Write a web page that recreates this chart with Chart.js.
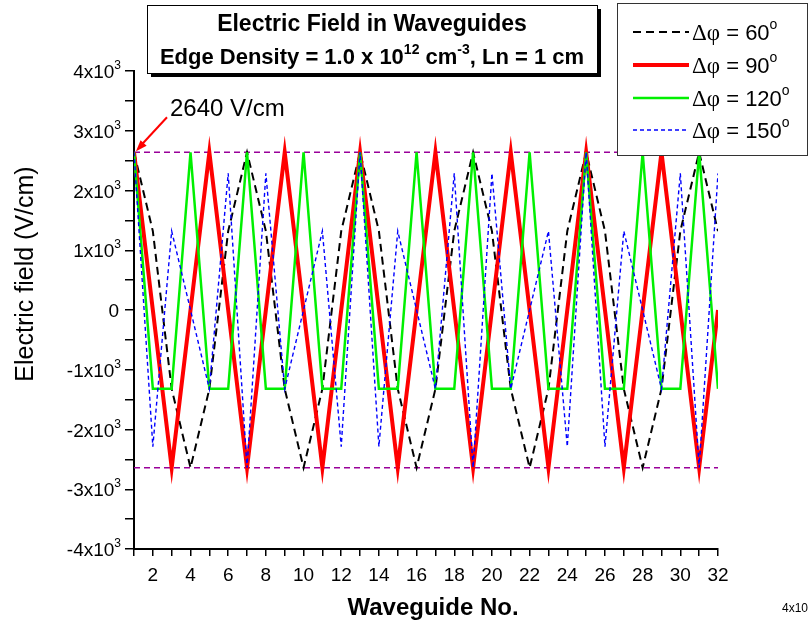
<!DOCTYPE html>
<html>
<head>
<meta charset="utf-8">
<script src="https://cdn.jsdelivr.net/npm/chart.js@4.4.0/dist/chart.umd.min.js"></script>
<style>
  html, body { margin: 0; padding: 0; background: #fff; }
  #wrap { width: 810px; height: 624px; }
</style>
</head>
<body>
<div id="wrap"><canvas id="chart"></canvas></div>
<script>
// Field amplitude at each waveguide for four phase steps
const waveguide = [1, 2, 3, 4, 5, 6, 7, 8, 9, 10, 11, 12, 13, 14, 15, 16,
  17, 18, 19, 20, 21, 22, 23, 24, 25, 26, 27, 28, 29, 30, 31, 32];
const field60 = [2640, 1320, -1320, -2640, -1320, 1320, 2640, 1320, -1320, -2640, -1320, 1320,
  2640, 1320, -1320, -2640, -1320, 1320, 2640, 1320, -1320, -2640, -1320, 1320,
  2640, 1320, -1320, -2640, -1320, 1320, 2640, 1320];
const field90 = [2640, 0, -2640, 0, 2640, 0, -2640, 0, 2640, 0, -2640, 0,
  2640, 0, -2640, 0, 2640, 0, -2640, 0, 2640, 0, -2640, 0,
  2640, 0, -2640, 0, 2640, 0, -2640, 0];
const field120 = [2640, -1320, -1320, 2640, -1320, -1320, 2640, -1320, -1320, 2640, -1320, -1320,
  2640, -1320, -1320, 2640, -1320, -1320, 2640, -1320, -1320, 2640, -1320, -1320,
  2640, -1320, -1320, 2640, -1320, -1320, 2640, -1320];
const field150 = [2640, -2286, 1320, 0, -1320, 2286, -2640, 2286, -1320, 0, 1320, -2286,
  2640, -2286, 1320, 0, -1320, 2286, -2640, 2286, -1320, 0, 1320, -2286,
  2640, -2286, 1320, 0, -1320, 2286, -2640, 2286];
const edgeField = 2640;
const yMajorTicks = [-4000, -3000, -2000, -1000, 0, 1000, 2000, 3000, 4000];
const legendLabels = ['60', '90', '120', '150'];

const SANS = '"Liberation Sans", Arial, sans-serif';
const SERIF = '"Liberation Serif", "Times New Roman", serif';

const pts = ys => waveguide.map((x, i) => ({ x: x, y: ys[i] }));
const refLine = v => [{ x: waveguide[0], y: v }, { x: waveguide[waveguide.length - 1], y: v }];

const series = [
  { data: field60, color: '#000000', width: 2, dash: [8, 5] },
  { data: field90, color: '#ff0000', width: 4, dash: [] },
  { data: field120, color: '#00f000', width: 2.5, dash: [] },
  { data: field150, color: '#0000ff', width: 1.4, dash: [4, 3] }
];

// draw a run of text pieces with their own fonts and baseline shifts
function drawRich(ctx, parts, x, y, align) {
  let total = 0;
  parts.forEach(p => { ctx.font = p.font; p.w = ctx.measureText(p.t).width; total += p.w; });
  let cx = align === 'center' ? x - total / 2 : align === 'right' ? x - total : x;
  ctx.textAlign = 'left';
  ctx.textBaseline = 'alphabetic';
  parts.forEach(p => {
    ctx.font = p.font;
    ctx.fillText(p.t, cx, y + (p.dy || 0));
    cx += p.w;
  });
}

const decorations = {
  id: 'decorations',
  afterDraw(chart) {
    const ctx = chart.ctx;
    const xs = chart.scales.x, ys = chart.scales.y;
    ctx.save();
    ctx.fillStyle = '#000';

    // y tick labels as N x 10^3
    yMajorTicks.forEach(v => {
      const py = ys.getPixelForValue(v);
      if (v === 0) {
        drawRich(ctx, [{ t: '0', font: '19px ' + SANS }], 119, py + 7, 'right');
      } else {
        drawRich(ctx, [
          { t: (v / 1000) + 'x10', font: '19px ' + SANS },
          { t: '3', font: '12px ' + SANS, dy: -9 }
        ], 121, py + 7, 'right');
      }
    });

    // axis titles
    ctx.font = 'bold 24px ' + SANS;
    ctx.textAlign = 'center';
    ctx.fillText('Waveguide No.', 433, 615);
    ctx.save();
    ctx.translate(33, 274);
    ctx.rotate(-Math.PI / 2);
    ctx.font = '25px ' + SANS;
    ctx.fillText('Electric field (V/cm)', 0, 0);
    ctx.restore();

    // title box with drop shadow
    ctx.fillStyle = '#000';
    ctx.fillRect(151, 9, 450, 68);
    ctx.fillStyle = '#fff';
    ctx.fillRect(147, 5, 450, 68);
    ctx.strokeStyle = '#000';
    ctx.lineWidth = 1;
    ctx.strokeRect(147.5, 5.5, 450, 68);
    ctx.fillStyle = '#000';
    drawRich(ctx, [{ t: 'Electric Field in Waveguides', font: 'bold 23px ' + SANS }], 372, 31, 'center');
    drawRich(ctx, [
      { t: 'Edge Density = 1.0 x 10', font: 'bold 22px ' + SANS },
      { t: '12', font: 'bold 14px ' + SANS, dy: -10 },
      { t: ' cm', font: 'bold 22px ' + SANS },
      { t: '-3', font: 'bold 14px ' + SANS, dy: -10 },
      { t: ', Ln = 1 cm', font: 'bold 22px ' + SANS }
    ], 372, 64, 'center');

    // legend box
    ctx.fillStyle = '#fff';
    ctx.fillRect(617, 3, 190, 152);
    ctx.strokeStyle = '#333';
    ctx.strokeRect(617.5, 3.5, 190, 152);
    const rowY = [32, 65, 98, 130];
    series.forEach((s, i) => {
      ctx.strokeStyle = s.color;
      ctx.lineWidth = s.width;
      ctx.setLineDash(s.dash);
      ctx.beginPath();
      ctx.moveTo(633, rowY[i]);
      ctx.lineTo(689, rowY[i]);
      ctx.stroke();
      ctx.setLineDash([]);
      ctx.fillStyle = '#000';
      drawRich(ctx, [
        { t: '\u0394\u03c6', font: '23px ' + SERIF },
        { t: ' = ' + legendLabels[i], font: '22px ' + SANS },
        { t: 'o', font: '14px ' + SANS, dy: -11 }
      ], 692, rowY[i] + 8, 'left');
    });

    // edge field annotation with arrow
    const tipX = xs.getPixelForValue(waveguide[0]) + 2;
    const tipY = ys.getPixelForValue(edgeField) - 1;
    const tailX = tipX + 31, tailY = tipY - 34;
    ctx.strokeStyle = '#ff0000';
    ctx.fillStyle = '#ff0000';
    ctx.lineWidth = 2;
    ctx.beginPath();
    ctx.moveTo(tailX, tailY);
    ctx.lineTo(tipX + 6, tipY - 7);
    ctx.stroke();
    const ang = Math.atan2(tipY - tailY, tipX - tailX);
    ctx.beginPath();
    ctx.moveTo(tipX, tipY);
    ctx.lineTo(tipX - 12 * Math.cos(ang - 0.35), tipY - 12 * Math.sin(ang - 0.35));
    ctx.lineTo(tipX - 12 * Math.cos(ang + 0.35), tipY - 12 * Math.sin(ang + 0.35));
    ctx.closePath();
    ctx.fill();
    ctx.fillStyle = '#000';
    drawRich(ctx, [{ t: '2640 V/cm', font: '24px ' + SANS }], 170, 116, 'left');

    // stray label at the page edge
    drawRich(ctx, [{ t: '4x10', font: '12px ' + SANS }], 782, 612, 'left');
    ctx.restore();
  }
};

const datasets = series.map((s, i) => ({
  data: pts(s.data),
  borderColor: s.color,
  borderWidth: s.width,
  borderDash: s.dash,
  pointRadius: 0,
  tension: 0,
  fill: false,
  order: series.length - 1 - i
}));
[edgeField, -edgeField].forEach(v => datasets.push({
  data: refLine(v),
  borderColor: '#990099',
  borderWidth: 1.3,
  borderDash: [6, 4],
  pointRadius: 0,
  fill: false,
  order: 10
}));

new Chart(document.getElementById('chart'), {
  type: 'line',
  data: { datasets: datasets },
  options: {
    responsive: true,
    maintainAspectRatio: false,
    animation: false,
    layout: { padding: { left: 0, right: 92, top: 71, bottom: 0 } },
    plugins: {
      legend: { display: false },
      tooltip: { enabled: false }
    },
    scales: {
      x: {
        type: 'linear',
        min: 1,
        max: 32,
        afterFit: scale => { scale.height = 75; },
        border: { color: '#000', width: 2 },
        grid: { display: true, drawOnChartArea: false, color: '#000', lineWidth: 1.5, tickLength: 7 },
        ticks: {
          stepSize: 1,
          autoSkip: false,
          maxRotation: 0,
          padding: 8,
          color: '#000',
          font: { family: SANS, size: 19 },
          callback: v => (v % 2 === 0 ? String(v) : '')
        }
      },
      y: {
        min: -4000,
        max: 4000,
        afterFit: scale => { scale.width = 134; },
        border: { color: '#000', width: 2 },
        grid: { display: true, drawOnChartArea: false, color: '#000', lineWidth: 1.5, tickLength: 9 },
        ticks: { stepSize: 500, callback: () => '' }
      }
    }
  },
  plugins: [decorations]
});
</script>
</body>
</html>
